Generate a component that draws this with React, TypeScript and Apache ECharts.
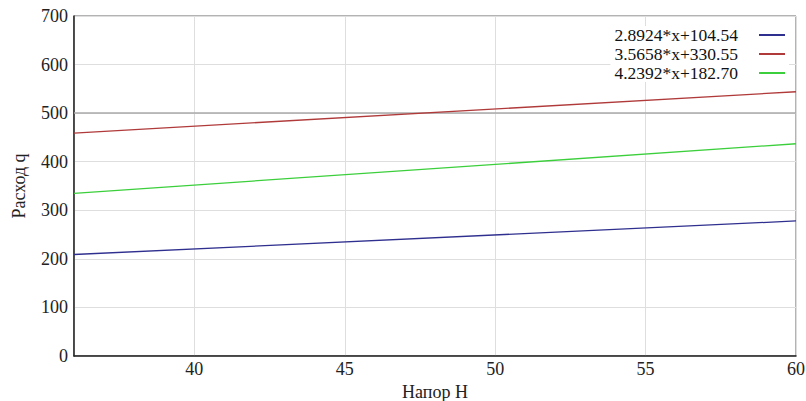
import React, { useEffect, useRef } from "react";
import * as echarts from "echarts";

const xRange = [36, 60];
const seriesNames = ["2.8924*x+104.54", "3.5658*x+330.55", "4.2392*x+182.70"];
const blueValues = [209, 278];
const redValues = [459, 544];
const greenValues = [335, 437];
const colors = ["#2f2f8f", "#b03a3a", "#3ccf3c"];

const FONT = "'Liberation Serif', 'Times New Roman', serif";

export default function App() {
  const ref = useRef<HTMLDivElement>(null);
  useEffect(() => {
    document.body.style.margin = "0";
    if (!ref.current) return;
    const chart = echarts.init(ref.current, null, { renderer: "svg" });
    const mk = (vals: number[]) => xRange.map((x, i) => [x, vals[i]]);
    const all = [blueValues, redValues, greenValues];
    const axisText = { fontFamily: FONT, fontSize: 18, color: "#222" };
    chart.setOption({
      animation: false,
      backgroundColor: "#fff",
      textStyle: { fontFamily: FONT },
      grid: {
        left: 74,
        right: 10,
        top: 16,
        bottom: 45,
        show: true,
        borderColor: "#666",
        borderWidth: 1,
        containLabel: false,
        outerBoundsMode: "none",
      },
      legend: {
        right: 17,
        top: 26,
        orient: "vertical",
        align: "right",
        backgroundColor: "#fff",
        padding: [0, 4, 0, 4],
        itemGap: 1,
        itemWidth: 26,
        itemHeight: 2,
        icon: "rect",
        textStyle: { fontFamily: FONT, fontSize: 17.5, color: "#111", padding: [0, 16, 0, 0], lineHeight: 17 },
        data: seriesNames,
      },
      xAxis: {
        type: "value",
        min: 36,
        max: 60,
        name: "Напор H",
        nameLocation: "middle",
        nameGap: 20,
        nameTextStyle: { ...axisText },
        axisLine: { show: true, lineStyle: { color: "#222", width: 1.5 } },
        axisTick: { show: false },
        axisLabel: {
          ...axisText,
          margin: 4,
          formatter: (v: number) => (v % 5 === 0 ? String(v) : ""),
        },
        splitLine: { show: true, lineStyle: { color: "#dedede" } },
      },
      yAxis: {
        type: "value",
        min: 0,
        max: 700,
        interval: 100,
        name: "Расход q",
        nameLocation: "middle",
        nameGap: 46,
        nameTextStyle: { ...axisText },
        axisLine: { show: true, lineStyle: { color: "#222", width: 1.5 } },
        axisTick: { show: false },
        axisLabel: { ...axisText, margin: 6 },
        splitLine: { show: true, lineStyle: { color: "#dedede" } },
      },
      series: seriesNames.map((name, i) => ({
        name,
        type: "line",
        data: mk(all[i]),
        symbol: "none",
        lineStyle: { color: colors[i], width: 1.3 },
        itemStyle: { color: colors[i] },
        z: 3,
        ...(i === 0
          ? {
              markLine: {
                silent: true,
                symbol: "none",
                label: { show: false },
                lineStyle: { color: "#aaa", type: "solid", width: 1.5 },
                data: [{ yAxis: 500 }],
                z: 1,
              },
            }
          : {}),
      })),
    });
    return () => chart.dispose();
  }, []);
  return <div ref={ref} style={{ width: 806, height: 401 }} />;
}
